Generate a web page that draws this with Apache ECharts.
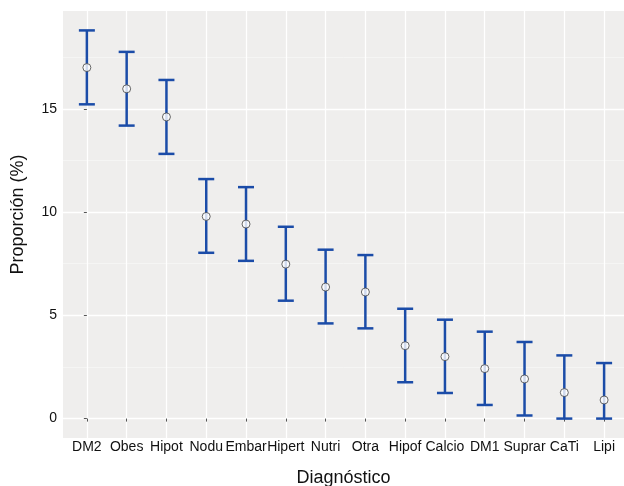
<!DOCTYPE html>
<html>
<head>
<meta charset="utf-8">
<script src="https://cdn.jsdelivr.net/npm/echarts@6/dist/echarts.min.js"></script>
<style>
  html, body { margin: 0; padding: 0; background: #fff; }
  #chart { width: 624px; height: 486px; }
</style>
</head>
<body>
<div id="chart"></div>
<script>
// diagnoses, ordered as in the figure
const categories = ['DM2', 'Obes', 'Hipot', 'Nodu', 'Embar', 'Hipert', 'Nutri', 'Otra',
  'Hipof', 'Calcio', 'DM1', 'Suprar', 'CaTi', 'Lipi'];

// proportion (%) with lower / upper interval limits
const means = [17.0, 15.97, 14.61, 9.79, 9.42, 7.48, 6.37, 6.13, 3.53, 3.0, 2.42, 1.92, 1.26, 0.9];
const lowers = [15.22, 14.19, 12.82, 8.03, 7.64, 5.71, 4.61, 4.37, 1.76, 1.24, 0.66, 0.15, 0, 0];
const uppers = [18.8, 17.76, 16.4, 11.6, 11.21, 9.29, 8.18, 7.92, 5.32, 4.79, 4.21, 3.71, 3.06, 2.69];

const yTicks = [0, 5, 10, 15];
const yMinorTicks = [2.5, 7.5, 12.5, 17.5];

const font = 'Liberation Sans, Arial, sans-serif';
const barColor = '#1b4ca8';

const chart = echarts.init(document.getElementById('chart'));

const xIdx = categories.map((c, i) => i);

const option = {
  animation: false,
  grid: {
    left: 63, right: 0, top: 11, bottom: 48,
    outerBoundsMode: 'none',
    containLabel: false,
    show: true, backgroundColor: '#efeeed', borderWidth: 0
  },
  xAxis: {
    type: 'value',
    min: -0.6,
    max: 13.5,
    name: 'Diagnóstico',
    nameLocation: 'middle',
    nameGap: 31,
    nameTextStyle: { fontFamily: font, fontSize: 18, color: '#111' },
    axisLine: { show: false },
    axisTick: { show: true, customValues: xIdx, length: 3, lineStyle: { color: '#555' } },
    axisLabel: {
      customValues: xIdx,
      formatter: v => categories[v],
      fontFamily: font, fontSize: 14, color: '#111', margin: 2
    },
    splitLine: { show: true, lineStyle: { color: '#fff', width: 1.3 } }
  },
  yAxis: [{
    type: 'value',
    min: -0.94,
    max: 19.74,
    name: 'Proporción (%)',
    nameLocation: 'middle',
    nameGap: 36,
    nameTextStyle: { fontFamily: font, fontSize: 18, color: '#111', padding: [0, 0, 0, 20] },
    axisLine: { show: false },
    axisTick: { show: true, customValues: yTicks, length: 3, lineStyle: { color: '#555' } },
    axisLabel: { customValues: yTicks, fontFamily: font, fontSize: 14, color: '#111', margin: 6 },
    splitLine: { show: true, lineStyle: { color: '#fff', width: 1.3 } }
  }, {
    type: 'value',
    min: -0.94,
    max: 19.74,
    position: 'left',
    axisLine: { show: false },
    axisTick: { show: false, customValues: yMinorTicks },
    axisLabel: { show: false, customValues: yMinorTicks },
    splitLine: { show: true, lineStyle: { color: '#f8f8f7', width: 0.7 } }
  }],
  series: [{
    type: 'custom',
    data: xIdx.map(i => [i, lowers[i], uppers[i]]),
    renderItem: function (params, api) {
      const x = api.value(0);
      const lo = api.coord([x, api.value(1)]);
      const hi = api.coord([x, api.value(2)]);
      const hw = 8;
      const style = { stroke: barColor, lineWidth: 2.5 };
      return {
        type: 'group',
        children: [
          { type: 'line', shape: { x1: lo[0], y1: lo[1], x2: hi[0], y2: hi[1] }, style: style },
          { type: 'line', shape: { x1: hi[0] - hw, y1: hi[1], x2: hi[0] + hw, y2: hi[1] }, style: style },
          { type: 'line', shape: { x1: lo[0] - hw, y1: lo[1], x2: lo[0] + hw, y2: lo[1] }, style: style }
        ]
      };
    },
    z: 2
  }, {
    type: 'scatter',
    data: xIdx.map(i => [i, means[i]]),
    symbol: 'circle',
    symbolSize: 8,
    itemStyle: { color: '#fff', borderColor: '#444', borderWidth: 1 },
    z: 3
  }]
};

chart.setOption(option);
</script>
</body>
</html>
